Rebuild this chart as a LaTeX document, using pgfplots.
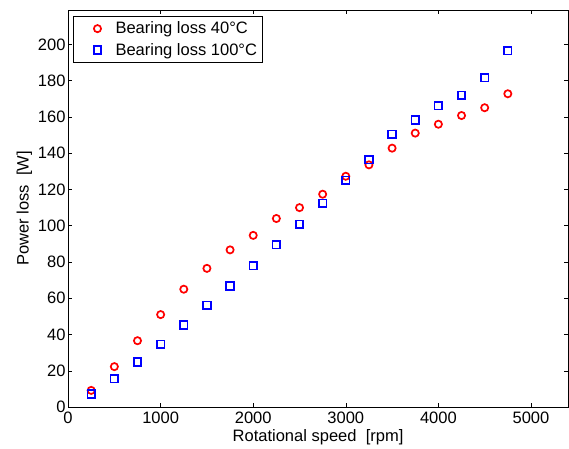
\documentclass[border=0pt]{standalone}
\usepackage{fontspec}
\setmainfont{Liberation Sans}
\usepackage{pgfplots}
\pgfplotsset{compat=1.18}
\begin{document}
\begin{tikzpicture}
\begin{axis}[
  scale only axis,
  width=499.5pt, height=396.7pt,
  xmin=0, xmax=5400, ymin=0, ymax=219,
  xtick={0,1000,2000,3000,4000,5000},
  ytick={0,20,40,60,80,100,120,140,160,180,200},
  tick align=inside,
  major tick length=4pt,
  axis line style={line width=0.8pt},
  tick style={line width=0.6pt,black},
  /pgf/number format/assume math mode=true,
  /pgf/number format/1000 sep={},
  tick label style={font=\fontsize{16.5}{19}\selectfont},
  label style={font=\fontsize{16.5}{19}\selectfont},
  xticklabel style={yshift=-1pt},
  yticklabel style={xshift=1pt},
  xlabel={Rotational speed~~[rpm]},
  ylabel={Power loss~~[W]},
  xlabel style={yshift=1pt},
  ylabel style={yshift=-1pt},
  legend style={at={(axis description cs:0,1)}, anchor=north west,
    xshift=5pt, yshift=-6pt, draw=black, line width=0.8pt,
    font=\fontsize{16.5}{19}\selectfont, row sep=4pt,
    inner xsep=3pt, inner ysep=3.5pt},
  legend cell align=left,
  legend image code/.code={\path[draw=none] (0pt,0pt) -- (37pt,0pt); \draw[only marks] plot coordinates {(21pt,0pt)};},
]
\addplot[only marks, mark=o, mark size=3.6pt, red, line width=1.7pt]
coordinates {
(250,9.2)(500,22.3)(750,36.6)(1000,51.0)(1250,65.0)(1500,76.5)(1750,86.7)
(2000,94.7)(2250,104.0)(2500,110.0)(2750,117.4)(3000,127.3)(3250,133.6)
(3500,142.8)(3750,151.1)(4000,156.0)(4250,160.8)(4500,165.1)(4750,172.8)
};
\addlegendentry{Bearing loss 40°C}
\addplot[only marks, mark=square, mark size=3.8pt, blue, line width=1.7pt]
coordinates {
(250,7.2)(500,15.6)(750,24.8)(1000,34.6)(1250,45.3)(1500,56.1)(1750,66.8)
(2000,78.0)(2250,89.6)(2500,100.8)(2750,112.4)(3000,125.1)(3250,136.5)
(3500,150.5)(3750,158.4)(4000,166.3)(4250,171.9)(4500,181.6)(4750,196.5)
};
\addlegendentry{Bearing loss 100°C}
\end{axis}
\path ([shift={(-68pt,-41pt)}]current axis.south west) rectangle ([shift={(1pt,10pt)}]current axis.north east);
\end{tikzpicture}
\end{document}
